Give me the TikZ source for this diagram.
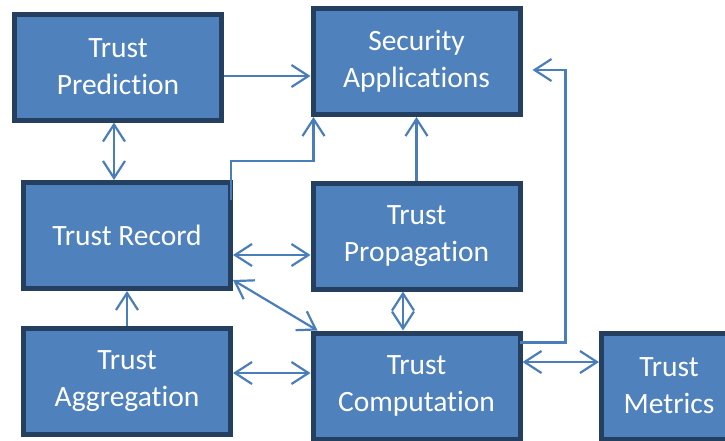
\documentclass[tikz,border=0pt]{standalone}
\usepackage{fontspec}
\setmainfont{Carlito}[Ligatures=NoCommon]
\usepackage{tikz}
\usetikzlibrary{arrows.meta,calc}
\definecolor{boxfill}{HTML}{4F81BD}
\definecolor{boxline}{HTML}{243F60}
\definecolor{linkcol}{HTML}{4A7EBB}
\begin{document}
\begin{tikzpicture}[x=1pt,y=-1pt,
    box/.style={rectangle, draw=boxline, fill=boxfill, line width=5pt,
      minimum width=207pt, minimum height=106pt, align=center,
      text=white, font=\fontsize{29.5}{37}\selectfont},
    arr/.style={draw=linkcol, line width=2.2pt, -{Straight Barb[length=17pt,width=22pt]}},
    dbl/.style={draw=linkcol, line width=2.2pt,
      {Straight Barb[length=17pt,width=22pt]}-{Straight Barb[length=17pt,width=22pt]}}]
      \useasboundingbox (0,0) rectangle (725,440);

      % Colonna sinistra
      \node (pred) at (118,67) [box] {Trust\\Prediction};
      \node (rec) at (127,235.5) [box] {Trust Record};
      \node (agg) at (127,381.5) [box] {Trust\\Aggregation};

      % Colonna centrale
      \node (sec) at (416.5,61.5) [box] {Security\\Applications};
      \node (prop) at (416.5,236) [box] {Trust\\Propagation};
      \node (comp) at (416.5,386) [box] {Trust\\Computation};

      % Colonna destra
      \node (met) at (669,386) [box, minimum width=135pt] {Trust\\Metrics};

      % Punti di partenza
      \coordinate (predout) at ($(pred.east)+(0,9)$);
      \coordinate (predlow) at ($(pred.south)+(-4,0)$);
      \coordinate (recup) at ($(rec.north east)+(-2,20)$);
      \coordinate (seclow) at ($(sec.south west)+(3,0)$);
      \coordinate (compup) at ($(comp.north east)+(-3,12)$);
      \coordinate (secin) at ($(sec.east)+(10,8.5)$);
      \coordinate (recout) at ($(rec.east)+(0,19.5)$);
      \coordinate (reclow) at ($(rec.south east)+(0,-11)$);
      \coordinate (compin) at ($(comp.north west)+(7,0)$);
      \coordinate (proplow) at ($(prop.south)+(-13.5,0)$);
      \coordinate (aggout) at ($(agg.east)+(0,-8.5)$);
      \coordinate (compout) at ($(comp.east)+(0,-24)$);

      % Collegamenti
      \draw[arr] (predout) -- (predout -| sec.west);
      \draw[dbl] (predlow) -- (predlow |- rec.north);
      \draw[arr] (recup) |- ($(seclow)+(0,44)$) -- (seclow);
      \draw[arr] (prop.north) -- (sec.south);
      \draw[arr] (compup) -| ($(secin)+(33,0)$) -- (secin);
      \draw[dbl] (recout) -- (recout -| prop.west);
      \draw[dbl] (reclow) -- (compin);
      \draw[dbl] (proplow) -- (proplow |- comp.north);
      \draw[arr] (agg.north) -- (rec.south);
      \draw[dbl] (aggout) -- (aggout -| comp.west);
      \draw[dbl] (compout) -- (compout -| met.west);
    \end{tikzpicture}
\end{document}
